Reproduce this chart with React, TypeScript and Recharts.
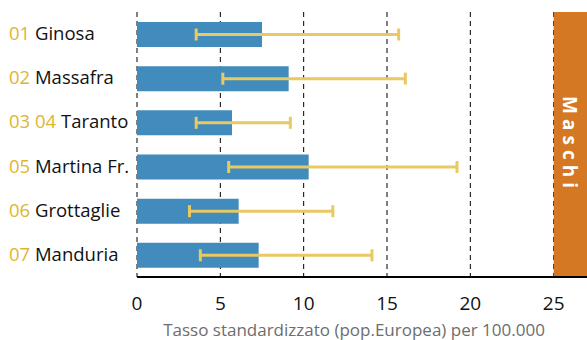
import { BarChart, Bar, XAxis, YAxis, CartesianGrid, ErrorBar, ReferenceArea } from "recharts"

const codes = ["01", "02", "03 04", "05", "06", "07"]
const comuni = ["Ginosa", "Massafra", "Taranto", "Martina Fr.", "Grottaglie", "Manduria"]
const tassi = [7.5, 9.1, 5.7, 10.3, 6.1, 7.3]
const limInf = [3.55, 5.15, 3.55, 5.5, 3.15, 3.8]
const limSup = [15.7, 16.1, 9.2, 19.2, 11.75, 14.1]
const xTicks = [0, 5, 10, 15, 20, 25]

const data = comuni.map((name, i) => ({
  name,
  code: codes[i],
  value: tassi[i],
  err: [tassi[i] - limInf[i], limSup[i] - tassi[i]],
}))

const FONT = "'Open Sans', sans-serif"

function ComuneTick(props: any) {
  const { y, payload } = props
  const row = data.find((d) => d.name === payload.value)
  return (
    <text x={9} y={y} dy={6} fontSize={18.5} fontFamily={FONT} textAnchor="start">
      <tspan fill="#e0b530">{row ? row.code : ""}</tspan>
      <tspan fill="#111"> {payload.value}</tspan>
    </text>
  )
}

function MaschiLabel(props: any) {
  const { viewBox } = props
  const cx = viewBox.x + viewBox.width / 2
  const cy = viewBox.y + viewBox.height / 2
  return (
    <text
      x={cx}
      y={cy}
      transform={`rotate(90 ${cx} ${cy})`}
      textAnchor="middle"
      dominantBaseline="central"
      fill="#fff"
      fontWeight="bold"
      fontSize={19}
      letterSpacing={5}
      fontFamily={FONT}
    >
      Maschi
    </text>
  )
}

export default function App() {
  return (
    <div style={{ position: "absolute", left: 0, top: 0 }}>
      <BarChart
        width={587}
        height={340}
        data={data}
        layout="vertical"
        margin={{ top: 12, right: 0, bottom: 0, left: 0 }}
      >
        <CartesianGrid horizontal={false} stroke="#000" strokeDasharray="5 4" />
        <ReferenceArea x1={25} x2={27} fill="#d47824" fillOpacity={1} stroke="none" label={<MaschiLabel />} />
        <XAxis
          type="number"
          domain={[0, 27]}
          ticks={xTicks}
          allowDataOverflow
          height={63}
          tickLine={false}
          axisLine={{ stroke: "#000", strokeWidth: 2 }}
          tick={{ fill: "#111", fontSize: 19, fontFamily: FONT }}
          tickMargin={14}
          label={{
            value: "Tasso standardizzato (pop.Europea) per 100.000",
            position: "insideBottom",
            offset: 4,
            dx: -8,
            fill: "#6d6d6d",
            fontSize: 17,
            fontFamily: FONT,
          }}
        />
        <XAxis
          xAxisId="top"
          orientation="top"
          type="number"
          domain={[0, 27]}
          height={0}
          tick={false}
          tickLine={false}
          axisLine={{ stroke: "#000", strokeWidth: 2 }}
        />
        <YAxis type="category" dataKey="name" width={137} tickLine={false} axisLine={false} tick={<ComuneTick />} />
        <Bar dataKey="value" fill="#418bbd" barSize={25} isAnimationActive={false}>
          <ErrorBar dataKey="err" direction="x" width={6} stroke="#e8c962" strokeWidth={3} />
        </Bar>
      </BarChart>
    </div>
  )
}
